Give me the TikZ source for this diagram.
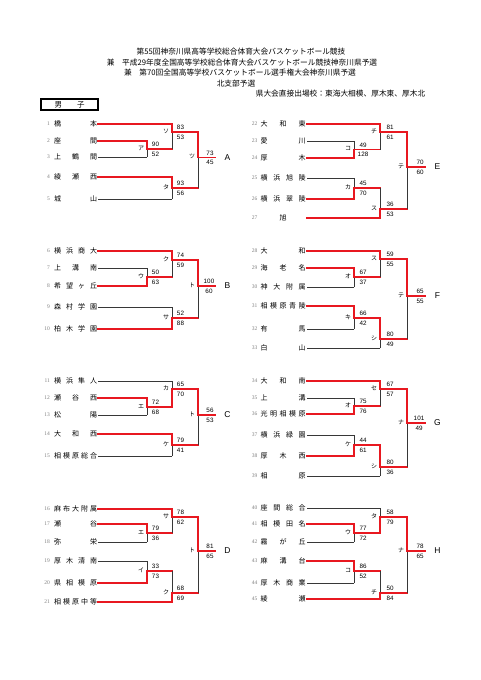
\documentclass[tikz,border=0pt]{standalone}
\usepackage{fontspec}
\newfontfamily\jp{Noto Sans CJK JP}
\newfontfamily\lsans{Liberation Sans}
\newfontfamily\lserif{Liberation Serif}
\definecolor{winred}{RGB}{232,24,32}
\definecolor{losegray}{RGB}{55,55,55}
\tikzset{
  win/.style={draw=winred, line width=1.5pt, line cap=rect},
  lose/.style={draw=losegray, line width=0.7pt},
  namesty/.style={font=\jp\fontsize{7}{7}\selectfont, inner sep=0pt},
  numsty/.style={font=\lserif\fontsize{5.5}{5.5}\selectfont, text=gray, inner sep=0pt},
  scsty/.style={font=\lsans\fontsize{6.3}{6.3}\selectfont, inner sep=0pt},
  kanasty/.style={font=\jp\fontsize{6}{6}\selectfont, inner sep=0pt},
  grpsty/.style={font=\lsans\fontsize{8.5}{8.5}\selectfont, inner sep=0pt},
  hdsty/.style={font=\jp\fontsize{7.7}{7.7}\selectfont, inner sep=0pt},
}
% team on the left half
\newcommand\tmL[3]{%
  \node[numsty,anchor=east] (num#1) at (50,#2) {#1};
  \node[namesty,anchor=west] (nm#1) at (54,#2) {\makebox[43pt][s]{#3}};
  \coordinate (s#1) at (98,#2);}
% team on the right half
\newcommand\tmR[3]{%
  \node[numsty,anchor=east] (num#1) at (257.5,#2) {#1};
  \node[namesty,anchor=west] (nm#1) at (260.5,#2) {\makebox[45pt][s]{#3}};
  \coordinate (s#1) at (307,#2);}
% match: id, x of junction, y of output, winner input, loser input, loser horizontal style, label
\newcommand\bkm[7]{%
  \coordinate (m-#1) at (#2,#3);
  \draw[#6] (#5) -- (#5 -| m-#1);
  \draw[lose] (#5 -| m-#1) -- (m-#1);
  \draw[win] (#4) -- (#4 -| m-#1) -- (m-#1);
  \node[kanasty] (lb-#1) at ([xshift=-6pt,yshift=1pt]m-#1) {#7};}
% scores: id, dx, top, bottom
\newcommand\bksc[4]{%
  \node[scsty] (sct-#1) at ([xshift=#2pt,yshift=4.5pt]m-#1) {#3};
  \node[scsty] (scb-#1) at ([xshift=#2pt,yshift=-5pt]m-#1) {#4};}
% final output: id, length, letter
\newcommand\bkfin[3]{%
  \draw[win] (m-#1) -- ++(#2,0) coordinate (e-#1);
  \node[grpsty] (g-#1) at ([xshift=12.5pt]e-#1) {#3};}

\begin{document}
\begin{tikzpicture}[x=1pt,y=-1pt]
\fill[white] (0,0) rectangle (481,680);
\useasboundingbox (0,0) rectangle (481,680);

% header
\node[hdsty] (h1) at (241,52) {第55回神奈川県高等学校総合体育大会バスケットボール競技};
\node[hdsty] (h2) at (242,63) {兼　平成29年度全国高等学校総合体育大会バスケットボール競技神奈川県予選};
\node[hdsty] (h3) at (240,73) {兼　第70回全国高等学校バスケットボール選手権大会神奈川県予選};
\node[hdsty] (h4) at (236,83.5) {北支部予選};
\node[hdsty] (h5) at (340.5,94) {県大会直接出場校：東海大相模、厚木東、厚木北};

\node[draw, line width=1.3pt, minimum width=57pt, minimum height=11pt, inner sep=0pt,
      font=\jp\fontsize{7.5}{7.5}\selectfont] (boys) at (69.5,104.5) {\makebox[30pt][s]{男\hfill 子}};

% ---------------- A ----------------
\tmL{1}{124}{橋\hfill 本}
\tmL{2}{141}{座\hfill 間}
\tmL{3}{157}{上\hfill 鶴\hfill 間}
\tmL{4}{177}{綾\hfill 瀬\hfill 西}
\tmL{5}{199}{城\hfill 山}
\bkm{A1}{147}{149}{s2}{s3}{lose}{ア}
\bkm{A2}{172}{132}{s1}{m-A1}{win}{ソ}
\bkm{A3}{172}{188}{s4}{s5}{lose}{タ}
\bkm{A4}{198}{157.5}{m-A2}{m-A3}{win}{ツ}
\bksc{A1}{8.5}{90}{52}
\bksc{A2}{8.5}{83}{53}
\bksc{A3}{8.5}{93}{56}
\bksc{A4}{12}{73}{45}
\bkfin{A4}{17}{A}

% ---------------- B ----------------
\tmL{6}{251}{横\hfill 浜\hfill 商\hfill 大}
\tmL{7}{268}{上\hfill 溝\hfill 南}
\tmL{8}{286}{希\hfill 望\hfill ヶ\hfill 丘}
\tmL{9}{307}{森\hfill 村\hfill 学\hfill 園}
\tmL{10}{329}{柏\hfill 木\hfill 学\hfill 園}
\bkm{B1}{147}{277}{s8}{s7}{lose}{ウ}
\bkm{B2}{172}{260}{s6}{m-B1}{win}{ク}
\bkm{B3}{172}{318}{s10}{s9}{lose}{サ}
\bkm{B4}{198}{286}{m-B2}{m-B3}{win}{ト}
\bksc{B1}{8.5}{50}{63}
\bksc{B2}{8.5}{74}{59}
\bksc{B3}{8.5}{52}{88}
\bksc{B4}{11}{100}{60}
\bkfin{B4}{17}{B}

% ---------------- C ----------------
\tmL{11}{381}{横\hfill 浜\hfill 隼\hfill 人}
\tmL{12}{398}{瀬\hfill 谷\hfill 西}
\tmL{13}{415}{松\hfill 陽}
\tmL{14}{434}{大\hfill 和\hfill 西}
\tmL{15}{456}{相\hfill 模\hfill 原\hfill 総\hfill 合}
\bkm{C1}{147}{407}{s12}{s13}{lose}{エ}
\bkm{C2}{172}{389}{m-C1}{s11}{lose}{カ}
\bkm{C3}{172}{445}{s14}{s15}{lose}{ケ}
\bkm{C4}{198}{415}{m-C2}{m-C3}{win}{ト}
\bksc{C1}{8.5}{72}{68}
\bksc{C2}{8.5}{65}{70}
\bksc{C3}{8.5}{79}{41}
\bksc{C4}{12}{56}{53}
\bkfin{C4}{17}{C}

% ---------------- D ----------------
\tmL{16}{509}{麻\hfill 布\hfill 大\hfill 附\hfill 属}
\tmL{17}{524}{瀬\hfill 谷}
\tmL{18}{542}{弥\hfill 栄}
\tmL{19}{561}{厚\hfill 木\hfill 清\hfill 南}
\tmL{20}{583}{県\hfill 相\hfill 模\hfill 原}
\tmL{21}{602}{相\hfill 模\hfill 原\hfill 中\hfill 等}
\bkm{D1}{147}{533}{s17}{s18}{lose}{エ}
\bkm{D2}{172}{517}{s16}{m-D1}{win}{サ}
\bkm{D3}{147}{571}{s20}{s19}{lose}{イ}
\bkm{D4}{172}{593}{s21}{m-D3}{win}{ク}
\bkm{D5}{198}{551}{m-D2}{m-D4}{win}{ト}
\bksc{D1}{8.5}{79}{36}
\bksc{D2}{8.5}{78}{62}
\bksc{D3}{8.5}{33}{73}
\bksc{D4}{8.5}{68}{69}
\bksc{D5}{12}{81}{65}
\bkfin{D5}{17}{D}

% ---------------- E ----------------
\tmR{22}{124}{大\hfill 和\hfill 東}
\tmR{23}{141}{愛\hfill 川}
\tmR{24}{158}{厚\hfill 木}
\tmR{25}{178}{横\hfill 浜\hfill 旭\hfill 陵}
\tmR{26}{199}{横\hfill 浜\hfill 翠\hfill 陵}
\tmR{27}{218}{\hfill 旭\hfill}
\bkm{E1}{354}{149.5}{s24}{s23}{lose}{コ}
\bkm{E2}{380}{132}{s22}{m-E1}{win}{チ}
\bkm{E3}{354}{188}{s26}{s25}{lose}{カ}
\bkm{E4}{380}{209}{s27}{m-E3}{win}{ス}
\bkm{E5}{407}{167}{m-E2}{m-E4}{win}{テ}
\bksc{E1}{9}{49}{128}
\bksc{E2}{10}{81}{61}
\bksc{E3}{9}{45}{70}
\bksc{E4}{10}{36}{53}
\bksc{E5}{13}{70}{60}
\bkfin{E5}{18}{E}

% ---------------- F ----------------
\tmR{28}{251}{大\hfill 和}
\tmR{29}{268}{海\hfill 老\hfill 名}
\tmR{30}{287}{神\hfill 大\hfill 附\hfill 属}
\tmR{31}{306}{相\hfill 模\hfill 原\hfill 青\hfill 陵}
\tmR{32}{329}{有\hfill 馬}
\tmR{33}{348}{白\hfill 山}
\bkm{F1}{354}{277}{s29}{s30}{lose}{オ}
\bkm{F2}{380}{259}{s28}{m-F1}{win}{ス}
\bkm{F3}{354}{318}{s31}{s32}{lose}{キ}
\bkm{F4}{380}{339}{m-F3}{s33}{lose}{シ}
\bkm{F5}{407}{296}{m-F2}{m-F4}{win}{テ}
\bksc{F1}{9}{67}{37}
\bksc{F2}{10}{59}{55}
\bksc{F3}{9}{66}{42}
\bksc{F4}{10}{80}{49}
\bksc{F5}{13}{65}{55}
\bkfin{F5}{18}{F}

% ---------------- G ----------------
\tmR{34}{381}{大\hfill 和\hfill 南}
\tmR{35}{398}{上\hfill 溝}
\tmR{36}{414}{光\hfill 明\hfill 相\hfill 模\hfill 原}
\tmR{37}{435}{横\hfill 浜\hfill 緑\hfill 園}
\tmR{38}{456}{厚\hfill 木\hfill 西}
\tmR{39}{476}{相\hfill 原}
\bkm{G1}{354}{406}{s36}{s35}{lose}{オ}
\bkm{G2}{380}{389}{s34}{m-G1}{win}{セ}
\bkm{G3}{354}{445}{s38}{s37}{lose}{ケ}
\bkm{G4}{380}{467}{m-G3}{s39}{lose}{シ}
\bkm{G5}{407}{423}{m-G2}{m-G4}{win}{ナ}
\bksc{G1}{9}{75}{76}
\bksc{G2}{10}{67}{57}
\bksc{G3}{9}{44}{61}
\bksc{G4}{10}{80}{36}
\bksc{G5}{12}{101}{49}
\bkfin{G5}{18}{G}

% ---------------- H ----------------
\tmR{40}{508}{座\hfill 間\hfill 総\hfill 合}
\tmR{41}{524}{相\hfill 模\hfill 田\hfill 名}
\tmR{42}{542}{霧\hfill が\hfill 丘}
\tmR{43}{561}{麻\hfill 溝\hfill 台}
\tmR{44}{583}{厚\hfill 木\hfill 商\hfill 業}
\tmR{45}{599}{綾\hfill 瀬}
\bkm{H1}{354}{533}{s41}{s42}{lose}{ウ}
\bkm{H2}{380}{517}{m-H1}{s40}{lose}{タ}
\bkm{H3}{354}{571}{s43}{s44}{lose}{コ}
\bkm{H4}{380}{593}{s45}{m-H3}{win}{チ}
\bkm{H5}{407}{551}{m-H2}{m-H4}{win}{ナ}
\bksc{H1}{9}{77}{72}
\bksc{H2}{10}{58}{79}
\bksc{H3}{9}{86}{52}
\bksc{H4}{10}{50}{84}
\bksc{H5}{13}{78}{65}
\bkfin{H5}{18}{H}
\end{tikzpicture}
\end{document}
